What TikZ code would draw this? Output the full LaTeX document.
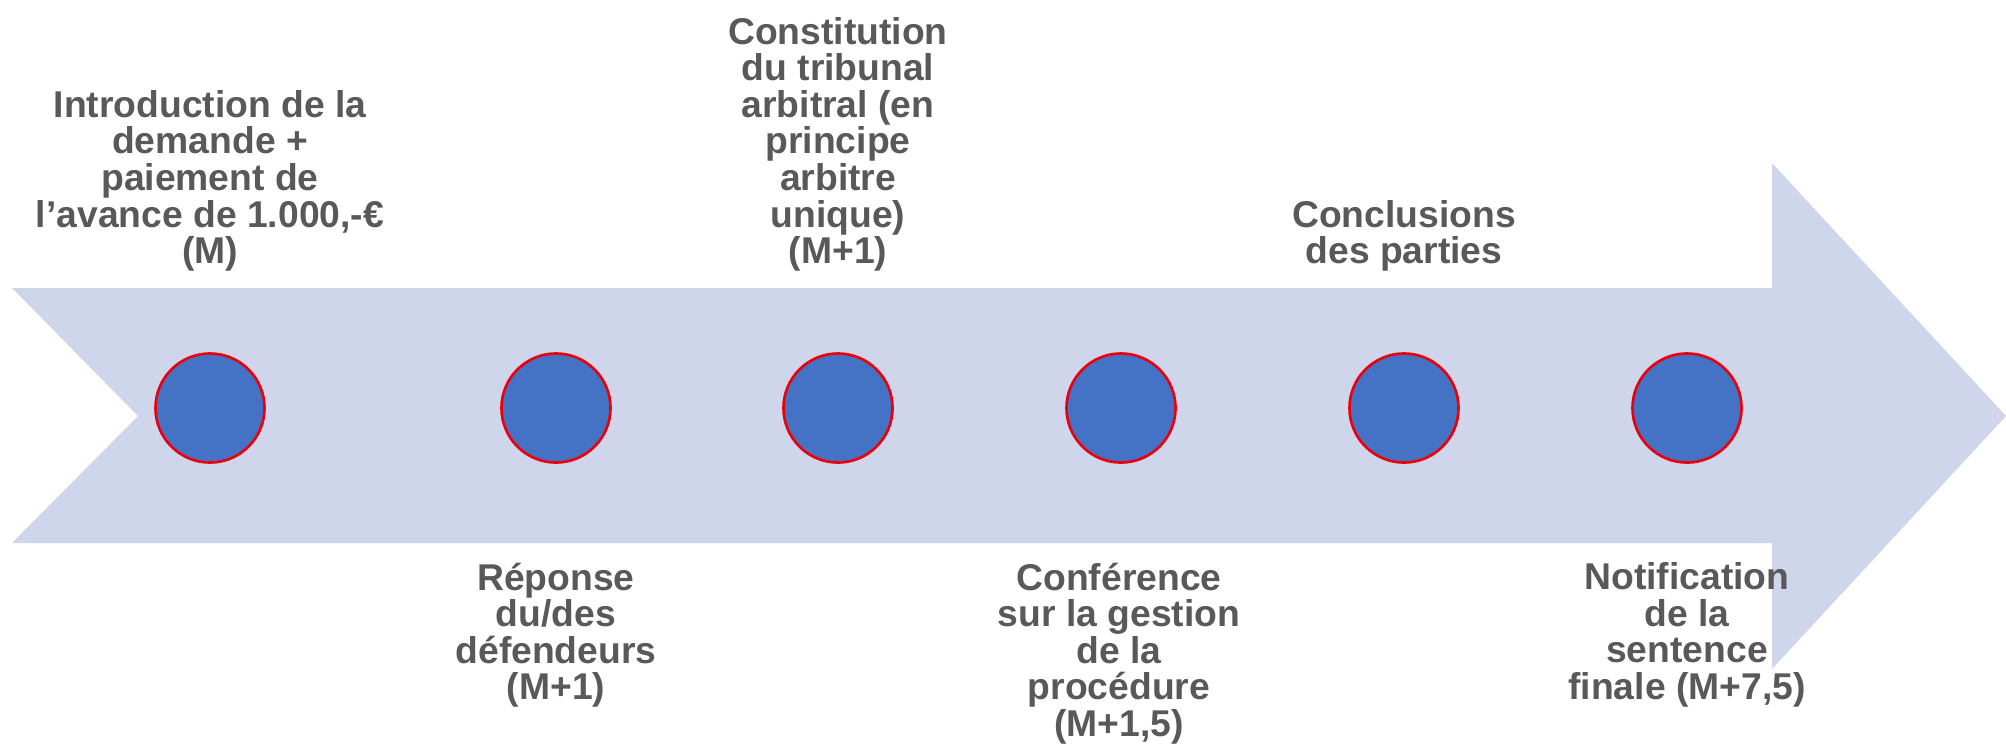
\documentclass[tikz,border=0pt]{standalone}
\usepackage{fontspec}
\setmainfont{Liberation Sans}

\definecolor{arrowfill}{RGB}{207,213,234}
\definecolor{dotfill}{RGB}{68,114,196}
\definecolor{dotline}{RGB}{235,0,10}
\definecolor{labeltext}{RGB}{89,89,89}

\tikzset{
  dot/.style={circle, fill=dotfill, draw=dotline, line width=0.75pt,
    minimum size=1.09cm, inner sep=0pt},
  steplabel/.style={align=center, text=labeltext, inner sep=0pt,
    font=\fontsize{10.6}{10.4}\selectfont\bfseries}
}

\begin{document}
\begin{tikzpicture}[x=0.01cm, y=-0.01cm]

    % Fix the picture size (pixel-like units, y pointing down)
    \useasboundingbox (0,0) rectangle (2006,750);

    % Draw the big notched arrow in the background
    \fill[arrowfill] (12,288) -- (1772,288) -- (1772,163) -- (2006,416)
        -- (1772,669) -- (1772,543) -- (12,543) -- (138,416) -- cycle;

    % Place the six milestones along the arrow
    \node[dot] (dot1) at (210,408) {};
    \node[dot] (dot2) at (556,408) {};
    \node[dot] (dot3) at (838,408) {};
    \node[dot] (dot4) at (1121,408) {};
    \node[dot] (dot5) at (1404,408) {};
    \node[dot] (dot6) at (1687,408) {};

    % Labels above the arrow
    \node[steplabel, anchor=south] (intro) at (210,272)
        {Introduction de la\\demande +\\paiement de\\l’avance de 1.000,-€\\(M)};
    \node[steplabel, anchor=south] (tribunal) at (838,272)
        {Constitution\\du tribunal\\arbitral (en\\principe\\arbitre\\unique)\\(M+1)};
    \node[steplabel, anchor=south] (conclusions) at (1404,272)
        {Conclusions\\des parties};

    % Labels below the arrow
    \node[steplabel, anchor=north] (reponse) at (556,562)
        {Réponse\\du/des\\défendeurs\\(M+1)};
    \node[steplabel, anchor=north] (conference) at (1119,562)
        {Conférence\\sur la gestion\\de la\\procédure\\(M+1,5)};
    \node[steplabel, anchor=north] (sentence) at (1687,562)
        {Notification\\de la\\sentence\\finale (M+7,5)};

\end{tikzpicture}
\end{document}
